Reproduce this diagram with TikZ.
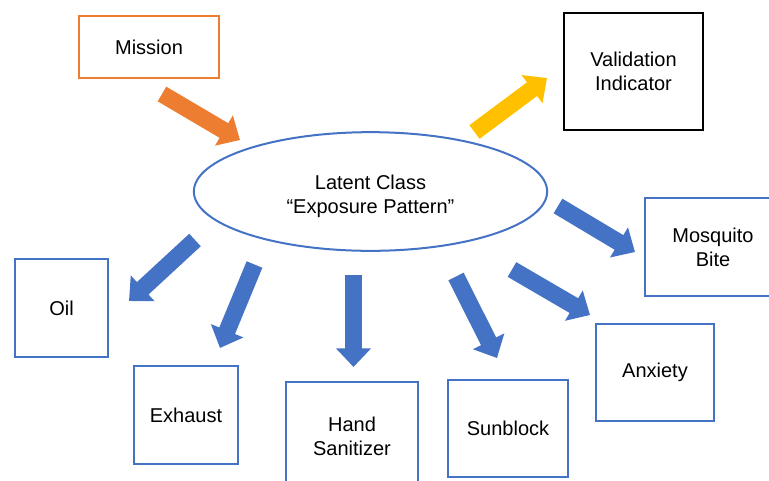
\documentclass[tikz,border=0pt]{standalone}
\usepackage{fontspec}
\setmainfont{Liberation Sans}
\usetikzlibrary{arrows.meta,shapes.geometric}

\definecolor{boxblue}{HTML}{4472C4}
\definecolor{boxorange}{HTML}{ED7D31}
\definecolor{boxyellow}{HTML}{FFC000}

\begin{document}
\begin{tikzpicture}[%
  x=0.75pt, y=-0.75pt,
  boxfont/.style = {align=center, font=\fontsize{15}{18}\selectfont},
  box/.style = {draw=boxblue, line width=1.5pt, boxfont},
  blockarrow/.style = {line width=12.75pt,
                       -{Triangle[length=14pt,width=25.5pt]}},
]

  \useasboundingbox (0,0) rectangle (769,480);

  \node[ellipse, box, minimum width=265pt, minimum height=89pt,
    label={[boxfont, yshift=-3.5pt]center:Latent Class\\``Exposure Pattern''}]
    (LC) at (370.5,191.5) {};

  \node[box, draw=boxorange, minimum width=105pt, minimum height=47pt]
    (Mis) at (149,47) {Mission};
  \node[box, draw=black, line width=1.8pt, minimum width=104pt, minimum height=88pt]
    (Val) at (633.5,71.5) {Validation\\Indicator};

  \node[box, minimum width=102pt, minimum height=74pt] (Mos) at (713,247) {Mosquito\\Bite};
  \node[box, minimum width=89pt, minimum height=73pt] (Anx) at (655,372.5) {Anxiety};
  \node[box, minimum width=89.5pt, minimum height=73pt] (Sun) at (508,428.5) {Sunblock};
  \node[box, minimum width=99pt, minimum height=81pt] (Han) at (352,436) {Hand\\Sanitizer};
  \node[box, minimum width=78pt, minimum height=74pt] (Exh) at (186,415) {Exhaust};
  \node[box, minimum width=70pt, minimum height=74pt] (Oil) at (61.5,308) {Oil};

  % arrow tails (a) and tips (b)
  \coordinate (Mis-a) at (162,94);
  \coordinate (Mis-b) at (240,140);
  \coordinate (Val-a) at (474.5,132);
  \coordinate (Val-b) at (547,78);
  \coordinate (Oil-a) at (195,240);
  \coordinate (Oil-b) at (129,301);
  \coordinate (Exh-a) at (254.5,264.5);
  \coordinate (Exh-b) at (220,348);
  \coordinate (Han-a) at (353.5,275);
  \coordinate (Han-b) at (353.5,367);
  \coordinate (Sun-a) at (456,276.5);
  \coordinate (Sun-b) at (497,358);
  \coordinate (Anx-a) at (512,269.5);
  \coordinate (Anx-b) at (590,315);
  \coordinate (Mos-a) at (558,206);
  \coordinate (Mos-b) at (635,252);

  \draw[blockarrow, boxorange] (Mis-a) -- (Mis-b);
  \draw[blockarrow, boxyellow] (Val-a) -- (Val-b);

  \foreach \n in {Oil,Exh,Han,Sun,Anx,Mos}
    \draw[blockarrow, boxblue] (\n-a) -- (\n-b);

\end{tikzpicture}
\end{document}
